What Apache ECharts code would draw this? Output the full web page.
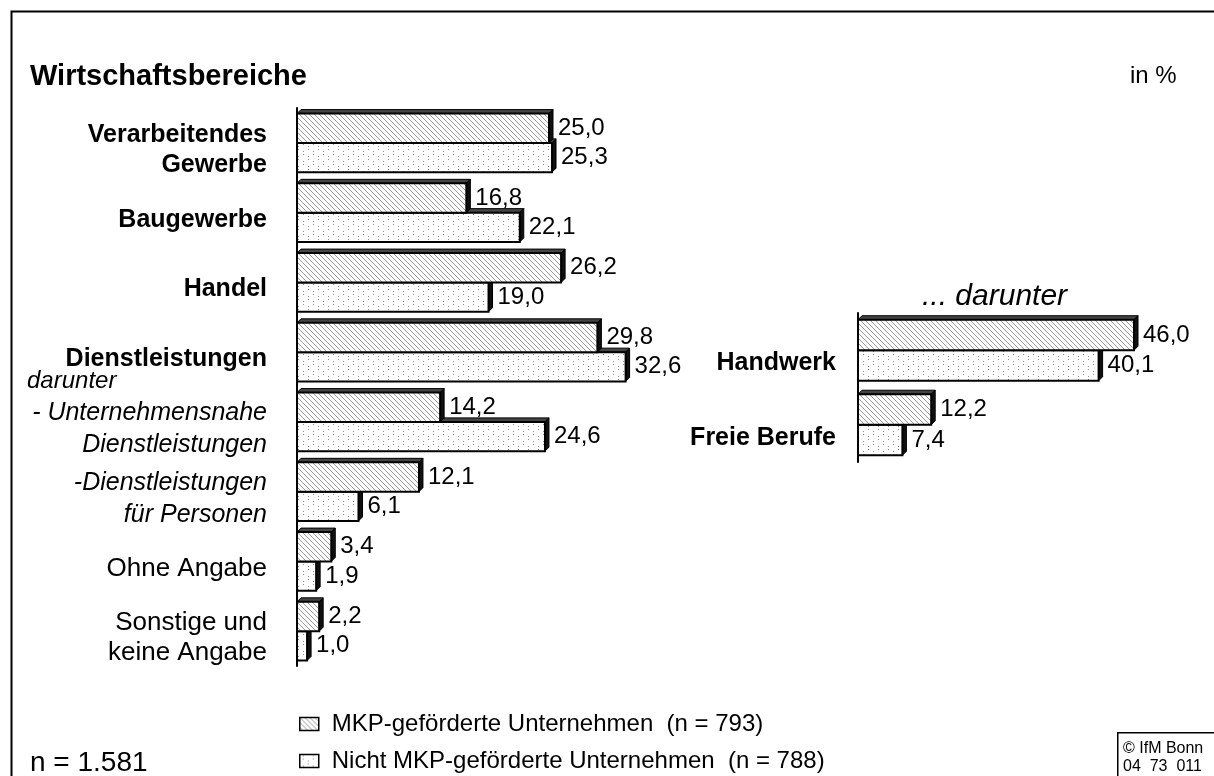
<!DOCTYPE html>
<html>
<head>
<meta charset="utf-8">
<script src="https://cdn.jsdelivr.net/npm/echarts@6/dist/echarts.min.js"></script>
</head>
<body style="margin:0">
<div id="main" style="width:1214px;height:776px;"></div>
<script type="text/javascript">
// data
var categories = ['Verarbeitendes\nGewerbe', 'Baugewerbe', 'Handel', 'Dienstleistungen',
    '- Unternehmensnahe\nDienstleistungen', '-Dienstleistungen\nfür Personen', 'Ohne Angabe', 'Sonstige und\nkeine Angabe'];
var mkp = [25.0, 16.8, 26.2, 29.8, 14.2, 12.1, 3.4, 2.2];
var nichtMkp = [25.3, 22.1, 19.0, 32.6, 24.6, 6.1, 1.9, 1.0];
var subCategories = ['Handwerk', 'Freie Berufe'];
var subMkp = [46.0, 12.2];
var subNichtMkp = [40.1, 7.4];
var seriesNames = ['MKP-geförderte Unternehmen  (n = 793)', 'Nicht MKP-geförderte Unternehmen  (n = 788)'];

var font = 'Arial, "Liberation Sans", sans-serif';

// fill patterns
function hatchPattern() {
    var c = document.createElement('canvas');
    c.width = 5; c.height = 5;
    var g = c.getContext('2d');
    g.fillStyle = '#fff';
    g.fillRect(0, 0, 5, 5);
    g.strokeStyle = '#999';
    g.lineWidth = 1;
    g.beginPath();
    for (var k = -1; k <= 1; k++) {
        g.moveTo(k * 5, 0);
        g.lineTo(k * 5 + 5, 5);
    }
    g.stroke();
    return c;
}
function dotPattern() {
    var c = document.createElement('canvas');
    c.width = 10; c.height = 10;
    var g = c.getContext('2d');
    g.fillStyle = '#fff';
    g.fillRect(0, 0, 10, 10);
    g.fillStyle = '#8c8c8c';
    g.fillRect(3, 1, 1, 1);
    g.fillRect(3, 4, 1, 1);
    g.fillRect(8, 6, 1, 1);
    g.fillRect(8, 9, 1, 1);
    return c;
}
var hatchFill = {image: hatchPattern(), repeat: 'repeat'};
var dotFill = {image: dotPattern(), repeat: 'repeat'};

function fmt(v) {
    return v.toFixed(1).replace('.', ',');
}

// 3d-looking bar: front face, top face, right face, value label
function barItem(layer, share, fill) {
    return function (params, api) {
        var val = api.value(0);
        var cat = api.value(1);
        var base = api.coord([0, cat]);
        var tip = api.coord([val, cat]);
        var h = api.size([0, 1])[1] * share;
        var x = base[0];
        var w = tip[0] - base[0];
        var y = layer === 0 ? base[1] - h : base[1];
        var d = 4;
        return {
            type: 'group',
            children: [
                {type: 'polygon', shape: {points: [[x, y], [x + d, y - d], [x + w + d, y - d], [x + w, y]]},
                    style: {fill: '#444', stroke: '#000', lineWidth: 1}},
                {type: 'polygon', shape: {points: [[x + w, y], [x + w + d, y - d], [x + w + d, y + h - d], [x + w, y + h]]},
                    style: {fill: '#111', stroke: '#000', lineWidth: 1}},
                {type: 'rect', shape: {x: x, y: y, width: w, height: h},
                    style: {fill: fill, stroke: '#000', lineWidth: 2}},
                {type: 'text', x: x + w + d + 5, y: y + h / 2,
                    style: {text: fmt(val), font: '24px ' + font, fill: '#000', verticalAlign: 'middle'}}
            ]
        };
    };
}

function pairs(arr) {
    return arr.map(function (v, i) { return [v, i]; });
}

var myChart = echarts.init(document.getElementById('main'));

var legendBase = {
    orient: 'vertical',
    left: 294,
    itemWidth: 19,
    itemHeight: 13,
    icon: 'rect',
    itemStyle: {borderColor: '#000', borderWidth: 1.5},
    textStyle: {fontSize: 24, color: '#000', fontFamily: font, padding: [0, 0, 0, 8]}
};

var boldRich = {fontSize: 25, fontWeight: 'bold', lineHeight: 30, color: '#000', fontFamily: font};

var option = {
    backgroundColor: '#fff',
    animation: false,
    textStyle: {fontFamily: font},
    legend: [
        Object.assign({data: [seriesNames[0]], top: 707}, legendBase),
        Object.assign({data: [seriesNames[1]], top: 744}, legendBase)
    ],
    grid: [
        {left: 297, top: 108, width: 504, height: 558, outerBoundsMode: 'none'},
        {left: 858, top: 313, width: 300, height: 149, outerBoundsMode: 'none'}
    ],
    xAxis: [
        {gridIndex: 0, type: 'value', min: 0, max: 50, show: false},
        {gridIndex: 1, type: 'value', min: 0, max: 50, show: false}
    ],
    yAxis: [
        {
            gridIndex: 0,
            type: 'category',
            inverse: true,
            data: categories,
            axisTick: {show: false},
            axisLine: {lineStyle: {color: '#000', width: 2}},
            axisLabel: {
                margin: 30,
                padding: [14, 0, 0, 0],
                formatter: function (v, i) {
                    var s = i < 4 ? 'b' : (i < 6 ? 'i' : 'n');
                    return v.split('\n').map(function (l) {
                        return '{' + s + '|' + l + '}';
                    }).join('\n');
                },
                rich: {
                    b: boldRich,
                    i: {fontSize: 25, fontStyle: 'italic', lineHeight: 32, color: '#000', fontFamily: font},
                    n: {fontSize: 26, lineHeight: 30, color: '#000', fontFamily: font}
                }
            }
        },
        {
            gridIndex: 1,
            type: 'category',
            inverse: true,
            data: subCategories,
            axisTick: {show: false},
            axisLine: {lineStyle: {color: '#000', width: 2}},
            axisLabel: {
                margin: 22,
                padding: [26, 0, 0, 0],
                formatter: function (v) {
                    return '{b|' + v + '}';
                },
                rich: {b: boldRich}
            }
        }
    ],
    series: [
        {
            name: seriesNames[1], type: 'custom', xAxisIndex: 0, yAxisIndex: 0, z: 2,
            itemStyle: {color: dotFill}, encode: {x: 0, y: 1},
            data: pairs(nichtMkp), renderItem: barItem(1, 0.42, dotFill)
        },
        {
            name: seriesNames[0], type: 'custom', xAxisIndex: 0, yAxisIndex: 0, z: 3,
            itemStyle: {color: hatchFill}, encode: {x: 0, y: 1},
            data: pairs(mkp), renderItem: barItem(0, 0.42, hatchFill)
        },
        {
            name: seriesNames[1], type: 'custom', xAxisIndex: 1, yAxisIndex: 1, z: 2,
            itemStyle: {color: dotFill}, encode: {x: 0, y: 1},
            data: pairs(subNichtMkp), renderItem: barItem(1, 0.41, dotFill)
        },
        {
            name: seriesNames[0], type: 'custom', xAxisIndex: 1, yAxisIndex: 1, z: 3,
            itemStyle: {color: hatchFill}, encode: {x: 0, y: 1},
            data: pairs(subMkp), renderItem: barItem(0, 0.41, hatchFill)
        }
    ],
    graphic: [
        // outer frame
        {type: 'rect', left: 9, top: 9, shape: {width: 1230, height: 800},
            style: {fill: 'none', stroke: '#000', lineWidth: 2}, silent: true},
        {type: 'text', left: 30, top: 62,
            style: {text: 'Wirtschaftsbereiche', font: 'bold 29px ' + font, fill: '#000'}},
        {type: 'text', left: 1130, top: 64,
            style: {text: 'in %', font: '24px ' + font, fill: '#000'}},
        {type: 'text', left: 922, top: 282,
            style: {text: '... darunter', font: 'italic 30px ' + font, fill: '#000'}},
        {type: 'text', left: 27, top: 369,
            style: {text: 'darunter', font: 'italic 24px ' + font, fill: '#000'}},
        {type: 'text', left: 30, top: 749,
            style: {text: 'n = 1.581', font: '28px ' + font, fill: '#000'}},
        // copyright box
        {type: 'rect', left: 1117, top: 732, shape: {width: 120, height: 60},
            style: {fill: '#fff', stroke: '#000', lineWidth: 1.5}},
        {type: 'text', left: 1123, top: 740,
            style: {text: '© IfM Bonn\n04  73  011', font: '16px ' + font, lineHeight: 18, fill: '#000'}}
    ]
};
myChart.setOption(option);
</script>
</body>
</html>
